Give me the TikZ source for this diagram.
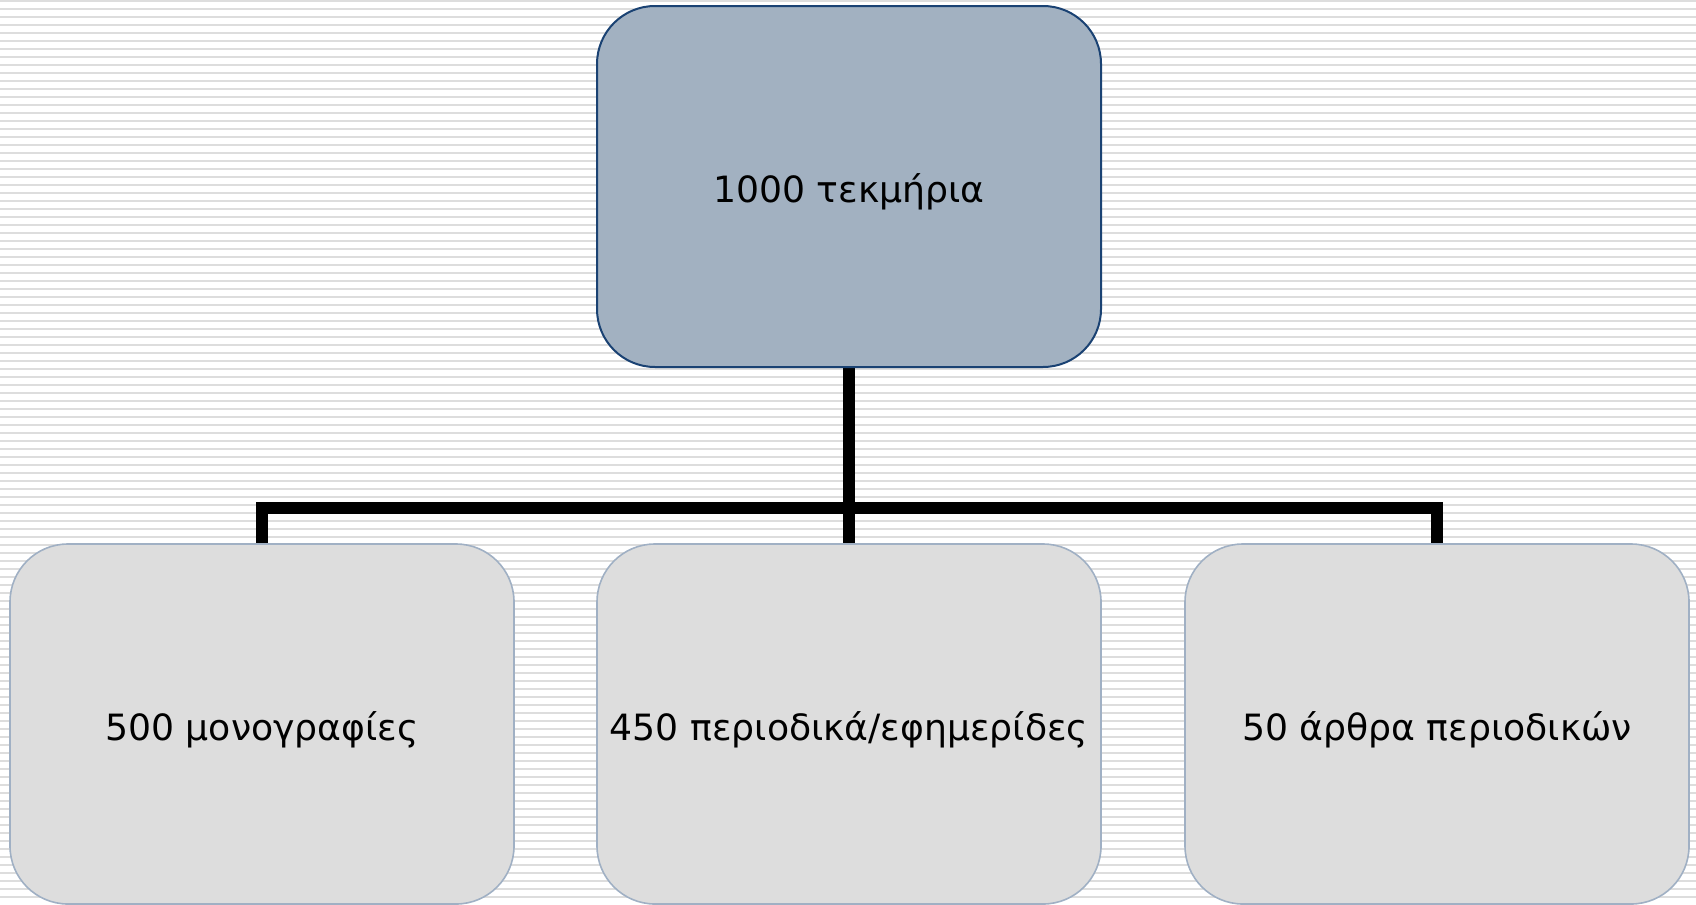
\documentclass[tikz,border=0pt]{standalone}
\usepackage{fontspec}
\setmainfont{DejaVu Sans}
\usetikzlibrary{positioning,backgrounds}

\definecolor{stripegray}{HTML}{DDDDDD}
\definecolor{rootfill}{HTML}{A2B1C1}
\definecolor{rootline}{HTML}{1A4273}
\definecolor{leaffill}{HTML}{DDDDDD}
\definecolor{leafline}{HTML}{A0B0C4}

\begin{document}
\begin{tikzpicture}[
    x=0.5pt, y=-0.5pt,
    thick,
    rootbox/.style={draw=rootline, line width=1pt, fill=rootfill, rounded corners=29pt,
        minimum width=252pt, minimum height=180.5pt, inner sep=2pt,
        text height=20pt, text depth=4pt,
        font=\fontsize{18.1}{21}\selectfont},
    leafbox/.style={draw=leafline, line width=0.8pt, fill=leaffill, rounded corners=29pt,
        minimum width=252pt, minimum height=180pt, inner sep=2pt,
        text height=20pt, text depth=4pt,
        font=\fontsize{18.1}{21}\selectfont},
    link/.style={draw=black, line width=6pt}
]

    % --- 1. Boxes ---
    % root
    \node[rootbox] (items) at (849,186.5) {1000 τεκμήρια};

    % children
    \node[leafbox] (mono) at (262,724) {500 μονογραφίες};
    \node[leafbox] (serials) at (849,724) {450 περιοδικά/εφημερίδες};
    \node[leafbox] (articles) at (1437,724) {50 άρθρα περιοδικών};

    % --- 2. Background (grey stripes) and connectors ---
    \useasboundingbox (0,0) rectangle (1696,904);
    \coordinate (bar) at (849,508);
    \begin{scope}[on background layer]
        \foreach \k in {0,...,112}
            \fill[stripegray] (0,8*\k) rectangle (1696,8*\k+2);
        \draw[link] (mono.north) |- (bar) -| (articles.north);
        \draw[link] (items.south) -- (serials.north);
    \end{scope}

\end{tikzpicture}
\end{document}
